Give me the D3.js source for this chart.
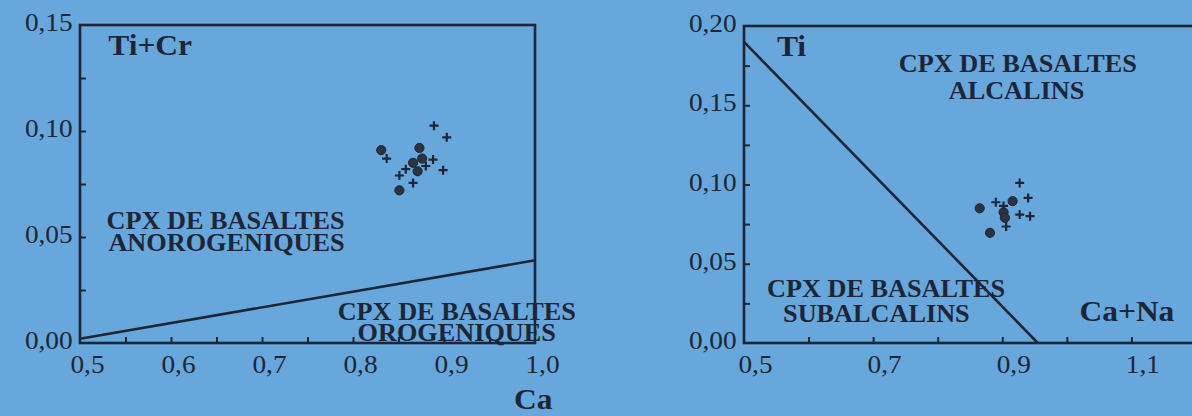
<!DOCTYPE html>
<html>
<head>
<meta charset="utf-8">
<script src="https://cdn.jsdelivr.net/npm/d3@7"></script>
<style>
  body { margin: 0; background: #67a7dc; }
  svg { display: block; }
  text { font-family: "Liberation Serif", "Times New Roman", serif; fill: #1d2636; }
</style>
</head>
<body>
<div id="chart"></div>
<script>
const width = 1192, height = 416;
const ink = "#1d2636";
const stretch = 1.05; // the scanned lettering is a little wider than Times

// left diagram: Ti+Cr against Ca
const leftCircleCa   = [0.831, 0.873, 0.866, 0.876, 0.871, 0.851];
const leftCircleTiCr = [0.091, 0.092, 0.085, 0.087, 0.081, 0.072];
const leftPlusCa     = [0.889, 0.903, 0.837, 0.888, 0.880, 0.858, 0.899, 0.851, 0.866];
const leftPlusTiCr   = [0.1025, 0.097, 0.087, 0.0865, 0.0835, 0.082, 0.0815, 0.079, 0.0755];
const leftBoundary   = [[0.5, 0.002], [1.0, 0.039]];
const leftXLabels    = [0.5, 0.6, 0.7, 0.8, 0.9, 1.0];
const leftXMinor     = d3.range(0.55, 1.0, 0.05);
const leftYLabels    = [0, 0.05, 0.10, 0.15];
const leftYMinor     = [0.025, 0.05, 0.075, 0.10, 0.125];

// right diagram: Ti against Ca+Na
const rightCircleCaNa = [0.865, 0.916, 0.881, 0.902, 0.904];
const rightCircleTi   = [0.085, 0.0895, 0.0695, 0.0825, 0.079];
const rightPlusCaNa   = [0.927, 0.890, 0.940, 0.927, 0.943, 0.906, 0.902];
const rightPlusTi     = [0.101, 0.0888, 0.0915, 0.081, 0.080, 0.0735, 0.0865];
const rightBoundary   = [[0.5, 0.19], [0.955, 0]];
const rightXLabels    = [0.5, 0.7, 0.9, 1.1];
const rightXMinor     = [0.6, 0.7, 0.8, 0.9, 1.0, 1.1];
const rightYLabels    = [0, 0.05, 0.10, 0.15, 0.20];
const rightYMinor     = [0.025, 0.05, 0.075, 0.10, 0.125, 0.15, 0.175];

const svg = d3.select("#chart")
  .append("svg")
  .attr("width", width)
  .attr("height", height);

const comma = d => d.toFixed(2).replace(".", ",");
const comma1 = d => d.toFixed(1).replace(".", ",");

function panel(cfg) {
  let x = d3.scaleLinear().domain(cfg.xDomain).range(cfg.xRange);
  let y = d3.scaleLinear().domain(cfg.yDomain).range(cfg.yRange);
  let g = svg.append("g");

  // inner minor ticks
  g.append("g")
    .attr("transform", `translate(0,${cfg.yRange[0]})`)
    .call(d3.axisBottom(x).tickValues(cfg.xMinor).tickSize(-6).tickFormat(""))
    .call(a => a.select(".domain").remove())
    .call(a => a.selectAll("line").attr("stroke", ink).attr("stroke-width", 2));

  g.append("g")
    .attr("transform", `translate(${cfg.xRange[0]},0)`)
    .call(d3.axisLeft(y).tickValues(cfg.yMinor).tickSize(-6).tickFormat(""))
    .call(a => a.select(".domain").remove())
    .call(a => a.selectAll("line").attr("stroke", ink).attr("stroke-width", 2));

  // tick labels
  g.append("g")
    .attr("transform", `translate(0,${cfg.yRange[0]})`)
    .call(d3.axisBottom(x).tickValues(cfg.xLabels).tickSize(0).tickPadding(12).tickFormat(comma1))
    .call(a => a.select(".domain").remove())
    .call(a => a.selectAll("text")
      .attr("font-family", null)
      .style("font-size", "26px")
      .attr("fill", ink)
      .attr("transform", `translate(${cfg.xLabelShift},0) scale(${stretch},1)`));

  g.append("g")
    .attr("transform", `translate(${cfg.xRange[0]},0)`)
    .call(d3.axisLeft(y).tickValues(cfg.yLabels).tickSize(0).tickPadding(7).tickFormat(comma))
    .call(a => a.select(".domain").remove())
    .call(a => a.selectAll("text")
      .attr("font-family", null)
      .style("font-size", "26px")
      .attr("fill", ink)
      .attr("dy", "0.22em")
      .attr("transform", `scale(${stretch},1)`));

  // frame
  g.append("rect")
    .attr("x", cfg.xRange[0])
    .attr("y", cfg.yRange[1])
    .attr("width", cfg.xRange[1] - cfg.xRange[0])
    .attr("height", cfg.yRange[0] - cfg.yRange[1])
    .attr("fill", "none")
    .attr("stroke", ink)
    .attr("stroke-width", 2.6);

  // field boundary
  g.append("path")
    .datum(cfg.boundary)
    .attr("fill", "none")
    .attr("stroke", ink)
    .attr("stroke-width", 2.6)
    .attr("d", d3.line().x(d => x(d[0])).y(d => y(d[1])));

  // analyses
  g.selectAll(".dot")
    .data(d3.zip(cfg.circleX, cfg.circleY))
    .join("circle")
    .attr("cx", d => x(d[0]))
    .attr("cy", d => y(d[1]))
    .attr("r", 4.6)
    .attr("fill", "#2c3340")
    .attr("stroke", ink)
    .attr("stroke-width", 1);

  g.selectAll(".plus")
    .data(d3.zip(cfg.plusX, cfg.plusY))
    .join("path")
    .attr("d", d => {
      let px = x(d[0]), py = y(d[1]), s = 4.5;
      return `M${px - s},${py}H${px + s}M${px},${py - s}V${py + s}`;
    })
    .attr("stroke", ink)
    .attr("stroke-width", 2.2);

  // labels
  for (let t of cfg.texts) {
    g.append("text")
      .attr("transform", `translate(${x(t.x)},${y(t.y)}) scale(${stretch},1)`)
      .attr("text-anchor", t.anchor || "middle")
      .style("font-size", t.size + "px")
      .style("font-weight", "bold")
      .text(t.text);
  }
}

panel({
  xDomain: [0.5, 1.0], xRange: [80, 535],
  yDomain: [0, 0.15], yRange: [343, 25],
  xMinor: leftXMinor, yMinor: leftYMinor,
  xLabels: leftXLabels, yLabels: leftYLabels, xLabelShift: 7,
  boundary: leftBoundary,
  circleX: leftCircleCa, circleY: leftCircleTiCr,
  plusX: leftPlusCa, plusY: leftPlusTiCr,
  texts: [
    { text: "Ti+Cr", x: 0.531, y: 0.1358, size: 30, anchor: "start" },
    { text: "CPX DE BASALTES", x: 0.660, y: 0.0537, size: 25 },
    { text: "ANOROGENIQUES", x: 0.661, y: 0.0432, size: 25 },
    { text: "CPX DE BASALTES", x: 0.914, y: 0.0108, size: 25 },
    { text: "OROGENIQUES", x: 0.914, y: 0.0010, size: 25 },
    { text: "Ca", x: 0.998, y: -0.0310, size: 30 }
  ]
});

panel({
  xDomain: [0.5, 1.2], xRange: [744, 1196],
  yDomain: [0, 0.2], yRange: [343, 26],
  xMinor: rightXMinor, yMinor: rightYMinor,
  xLabels: rightXLabels, yLabels: rightYLabels, xLabelShift: 11,
  boundary: rightBoundary,
  circleX: rightCircleCaNa, circleY: rightCircleTi,
  plusX: rightPlusCaNa, plusY: rightPlusTi,
  texts: [
    { text: "Ti", x: 0.551, y: 0.181, size: 30, anchor: "start" },
    { text: "CPX DE BASALTES", x: 0.924, y: 0.1712, size: 25 },
    { text: "ALCALINS", x: 0.922, y: 0.1538, size: 25 },
    { text: "CPX DE BASALTES", x: 0.720, y: 0.0292, size: 25 },
    { text: "SUBALCALINS", x: 0.705, y: 0.0134, size: 25 },
    { text: "Ca+Na", x: 1.093, y: 0.0141, size: 30 }
  ]
});
</script>
</body>
</html>
